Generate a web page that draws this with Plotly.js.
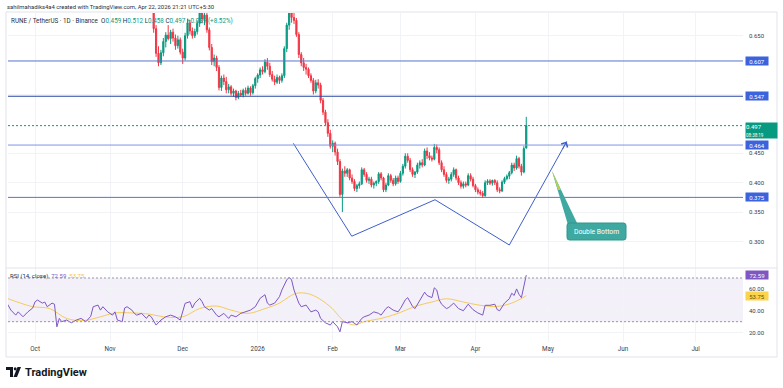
<!DOCTYPE html>
<html><head><meta charset="utf-8">
<script src="https://cdn.plot.ly/plotly-3.0.1.min.js"></script>
<style>html,body{margin:0;padding:0;background:#fff;}#chart{width:783px;height:388px;}</style>
</head><body><div id="chart"></div>
<script>
// ---------- DATA ----------
const dates = [
'2025-11-19','2025-11-20','2025-11-21','2025-11-22','2025-11-23','2025-11-24','2025-11-25','2025-11-26','2025-11-27','2025-11-28','2025-11-29','2025-11-30',
'2025-12-01','2025-12-02','2025-12-03','2025-12-04','2025-12-05','2025-12-06','2025-12-07','2025-12-08','2025-12-09','2025-12-10','2025-12-11','2025-12-12','2025-12-13','2025-12-14','2025-12-15','2025-12-16','2025-12-17','2025-12-18','2025-12-19','2025-12-20','2025-12-21','2025-12-22','2025-12-23','2025-12-24','2025-12-25','2025-12-26','2025-12-27','2025-12-28','2025-12-29','2025-12-30','2025-12-31',
'2026-01-01','2026-01-02','2026-01-03','2026-01-04','2026-01-05','2026-01-06','2026-01-07','2026-01-08','2026-01-09','2026-01-10','2026-01-11','2026-01-12','2026-01-13','2026-01-14','2026-01-15','2026-01-16','2026-01-17','2026-01-18','2026-01-19','2026-01-20','2026-01-21','2026-01-22','2026-01-23','2026-01-24','2026-01-25','2026-01-26','2026-01-27','2026-01-28','2026-01-29','2026-01-30','2026-01-31',
'2026-02-01','2026-02-02','2026-02-03','2026-02-04','2026-02-05','2026-02-06','2026-02-07','2026-02-08','2026-02-09','2026-02-10','2026-02-11','2026-02-12','2026-02-13','2026-02-14','2026-02-15','2026-02-16','2026-02-17','2026-02-18','2026-02-19','2026-02-20','2026-02-21','2026-02-22','2026-02-23','2026-02-24','2026-02-25','2026-02-26','2026-02-27','2026-02-28',
'2026-03-01','2026-03-02','2026-03-03','2026-03-04','2026-03-05','2026-03-06','2026-03-07','2026-03-08','2026-03-09','2026-03-10','2026-03-11','2026-03-12','2026-03-13','2026-03-14','2026-03-15','2026-03-16','2026-03-17','2026-03-18','2026-03-19','2026-03-20','2026-03-21','2026-03-22','2026-03-23','2026-03-24','2026-03-25','2026-03-26','2026-03-27','2026-03-28','2026-03-29','2026-03-30','2026-03-31',
'2026-04-01','2026-04-02','2026-04-03','2026-04-04','2026-04-05','2026-04-06','2026-04-07','2026-04-08','2026-04-09','2026-04-10','2026-04-11','2026-04-12','2026-04-13','2026-04-14','2026-04-15','2026-04-16','2026-04-17','2026-04-18','2026-04-19','2026-04-20','2026-04-21','2026-04-22'];

const openP = [
0.735,0.662,0.620,0.604,0.621,0.640,0.651,0.645,0.656,0.646,
0.633,0.643,0.622,0.612,0.650,0.672,0.658,0.650,0.657,0.671,
0.689,0.679,0.685,0.660,0.630,0.606,0.612,0.596,0.562,0.578,
0.572,0.558,0.563,0.552,0.556,0.545,0.552,0.549,0.557,0.552,
0.561,0.553,0.565,0.577,0.583,0.592,0.589,0.605,0.598,0.584,
0.576,0.571,0.579,0.574,0.582,0.628,0.668,0.691,0.681,0.676,
0.652,0.618,0.604,0.596,0.593,0.582,0.574,0.556,0.570,0.566,
0.540,0.520,0.502,0.484,0.462,0.467,0.452,0.436,0.380,0.420,
0.416,0.422,0.408,0.402,0.390,0.395,0.398,0.422,0.414,0.404,
0.406,0.396,0.399,0.402,0.415,0.408,0.388,0.396,0.412,0.404,
0.398,0.408,0.402,0.416,0.428,0.445,0.438,0.422,0.414,0.418,
0.430,0.434,0.430,0.454,0.446,0.442,0.440,0.460,0.456,0.434,
0.422,0.414,0.404,0.406,0.414,0.422,0.408,0.400,0.394,0.398,
0.396,0.412,0.406,0.395,0.388,0.384,0.382,0.378,0.400,0.403,
0.399,0.404,0.400,0.388,0.386,0.401,0.407,0.411,0.417,0.430,
0.425,0.441,0.428,0.418,0.459];
const highP = [
0.748,0.668,0.632,0.626,0.646,0.656,0.668,0.660,0.662,0.652,
0.650,0.647,0.628,0.655,0.679,0.676,0.664,0.662,0.676,0.698,
0.702,0.692,0.689,0.664,0.636,0.618,0.616,0.600,0.582,0.584,
0.580,0.568,0.566,0.560,0.558,0.556,0.558,0.560,0.562,0.565,
0.564,0.568,0.580,0.586,0.596,0.598,0.610,0.612,0.604,0.590,
0.582,0.584,0.582,0.586,0.632,0.672,0.702,0.704,0.692,0.680,
0.656,0.622,0.612,0.602,0.596,0.586,0.578,0.575,0.576,0.570,
0.544,0.524,0.508,0.490,0.472,0.470,0.458,0.440,0.424,0.428,
0.425,0.424,0.414,0.406,0.398,0.402,0.426,0.425,0.418,0.410,
0.410,0.402,0.404,0.418,0.418,0.410,0.400,0.416,0.415,0.408,
0.412,0.412,0.420,0.432,0.450,0.450,0.442,0.426,0.420,0.434,
0.438,0.440,0.458,0.460,0.452,0.446,0.466,0.465,0.460,0.438,
0.428,0.418,0.410,0.418,0.426,0.424,0.412,0.404,0.402,0.402,
0.416,0.416,0.410,0.398,0.392,0.388,0.386,0.404,0.406,0.406,
0.405,0.406,0.404,0.392,0.404,0.410,0.414,0.420,0.434,0.434,
0.446,0.444,0.432,0.462,0.512];
const lowP = [
0.655,0.614,0.598,0.600,0.615,0.630,0.642,0.636,0.640,0.626,
0.628,0.618,0.602,0.608,0.645,0.652,0.645,0.646,0.652,0.665,
0.671,0.668,0.655,0.625,0.600,0.598,0.590,0.557,0.556,0.566,
0.552,0.552,0.548,0.546,0.540,0.542,0.546,0.545,0.548,0.550,
0.548,0.550,0.560,0.570,0.578,0.584,0.586,0.592,0.580,0.572,
0.566,0.568,0.568,0.570,0.578,0.622,0.660,0.672,0.670,0.648,
0.612,0.598,0.590,0.584,0.578,0.570,0.550,0.552,0.560,0.535,
0.515,0.498,0.478,0.458,0.452,0.446,0.430,0.376,0.350,0.410,
0.410,0.404,0.398,0.386,0.384,0.390,0.396,0.410,0.400,0.398,
0.392,0.390,0.394,0.398,0.404,0.384,0.384,0.394,0.400,0.394,
0.395,0.398,0.400,0.412,0.424,0.434,0.418,0.410,0.408,0.415,
0.424,0.426,0.428,0.440,0.438,0.436,0.438,0.450,0.430,0.418,
0.410,0.400,0.398,0.402,0.410,0.404,0.396,0.390,0.390,0.392,
0.394,0.402,0.392,0.384,0.380,0.378,0.374,0.376,0.396,0.396,
0.395,0.396,0.384,0.382,0.384,0.398,0.404,0.406,0.414,0.420,
0.422,0.424,0.412,0.416,0.458];
const closeP = [
0.662,0.620,0.604,0.621,0.640,0.651,0.645,0.656,0.646,0.633,
0.643,0.622,0.612,0.650,0.672,0.658,0.650,0.657,0.671,0.689,
0.679,0.685,0.660,0.630,0.606,0.612,0.596,0.562,0.578,0.572,
0.558,0.563,0.552,0.556,0.545,0.552,0.549,0.557,0.552,0.561,
0.553,0.565,0.577,0.583,0.592,0.589,0.605,0.598,0.584,0.576,
0.571,0.579,0.574,0.582,0.628,0.668,0.691,0.681,0.676,0.652,
0.618,0.604,0.596,0.593,0.582,0.574,0.556,0.570,0.566,0.540,
0.520,0.502,0.484,0.462,0.467,0.452,0.436,0.380,0.420,0.416,
0.422,0.408,0.402,0.390,0.395,0.398,0.422,0.414,0.404,0.406,
0.396,0.399,0.402,0.415,0.408,0.388,0.396,0.412,0.404,0.398,
0.408,0.402,0.416,0.428,0.445,0.438,0.422,0.414,0.418,0.430,
0.434,0.430,0.454,0.446,0.442,0.440,0.460,0.456,0.434,0.422,
0.414,0.404,0.406,0.414,0.422,0.408,0.400,0.394,0.398,0.396,
0.412,0.406,0.395,0.388,0.384,0.382,0.378,0.400,0.403,0.399,
0.404,0.400,0.388,0.386,0.401,0.407,0.411,0.417,0.430,0.425,
0.441,0.428,0.418,0.458,0.497];

const rsiDates = ['2025-09-19','2025-09-21','2025-09-23','2025-09-24','2025-09-26','2025-09-28','2025-09-30','2025-10-01','2025-10-02','2025-10-04','2025-10-05','2025-10-06','2025-10-08','2025-10-09','2025-10-10','2025-10-11','2025-10-12','2025-10-14','2025-10-16','2025-10-18','2025-10-20','2025-10-22','2025-10-24','2025-10-25','2025-10-27','2025-10-28','2025-10-29','2025-10-31','2025-11-02','2025-11-03','2025-11-04','2025-11-06','2025-11-07','2025-11-08','2025-11-10','2025-11-11','2025-11-12','2025-11-14','2025-11-16','2025-11-17','2025-11-18','2025-11-20','2025-11-22','2025-11-24','2025-11-26','2025-11-28','2025-11-30','2025-12-02','2025-12-04','2025-12-05','2025-12-06','2025-12-08','2025-12-09','2025-12-10','2025-12-12','2025-12-13','2025-12-15','2025-12-16','2025-12-18','2025-12-20','2025-12-21','2025-12-23','2025-12-25','2025-12-27','2025-12-29','2025-12-31','2026-01-02','2026-01-04','2026-01-05','2026-01-06','2026-01-08','2026-01-10','2026-01-11','2026-01-13','2026-01-14','2026-01-15','2026-01-16','2026-01-18','2026-01-19','2026-01-21','2026-01-22','2026-01-23','2026-01-25','2026-01-26','2026-01-27','2026-01-29','2026-01-31','2026-02-01','2026-02-03','2026-02-04','2026-02-05','2026-02-07','2026-02-09','2026-02-11','2026-02-13','2026-02-14','2026-02-16','2026-02-18','2026-02-20','2026-02-21','2026-02-23','2026-02-24','2026-02-26','2026-02-28','2026-03-01','2026-03-03','2026-03-04','2026-03-06','2026-03-07','2026-03-09','2026-03-11','2026-03-12','2026-03-14','2026-03-15','2026-03-16','2026-03-17','2026-03-18','2026-03-20','2026-03-21','2026-03-23','2026-03-25','2026-03-27','2026-03-29','2026-03-31','2026-04-02','2026-04-04','2026-04-05','2026-04-07','2026-04-09','2026-04-10','2026-04-11','2026-04-13','2026-04-15','2026-04-16','2026-04-17','2026-04-18','2026-04-19','2026-04-20','2026-04-21','2026-04-22'];
const rsiValues = [48.3,40.6,36,39,34.5,39,42.5,48.3,49.8,47,48,43.7,47,46,25.3,33,30,31.5,29,31.5,33,30,35,43.7,45.2,40.6,43.7,39,36,39,31.5,30,42.5,43.7,40.6,37.6,36,37.6,33,36,34.5,26.9,31.5,34.5,36,34.5,31.5,46.8,48.3,42.5,47,51.4,48.3,43.7,40.6,42,36,34.5,37.6,33,36,34.5,37.6,39,40.6,43.7,51.4,54.7,47,45.2,47,52.9,59,68.2,70.6,68.2,59,47,43.7,45.2,42,39,40.6,39,33,29,26.9,30,25.3,20.7,30,29,30,27,33,34.5,36,39,37.6,36,42,43.7,40.6,39,42,50,52,44,42,50,57,54,52,61,59,50,46,42,43,47,42,40,46,41,38,36,45,45,46,41,40,47,51,56,54,60,55,52,64,72.59];

const rsiMaDates = ['2025-09-19','2025-09-25','2025-09-30','2025-10-07','2025-10-14','2025-10-21','2025-10-28','2025-11-03','2025-11-10','2025-11-17','2025-11-23','2025-12-01','2025-12-08','2025-12-15','2025-12-21','2025-12-28','2026-01-04','2026-01-10','2026-01-14','2026-01-17','2026-01-21','2026-01-25','2026-01-31','2026-02-06','2026-02-10','2026-02-14','2026-02-21','2026-02-28','2026-03-07','2026-03-14','2026-03-20','2026-03-27','2026-04-03','2026-04-10','2026-04-16','2026-04-22'];
const rsiMaValues = [51.7,47,43.7,42,33,31,34.5,38,38,37,34.5,34.5,42,44.3,40.6,37.6,42,47,52.9,56,56,52.9,43.7,30,27,30,33,37.6,44,48,51,48,45,44,47,53.75];

const levelPrices = [0.607, 0.547, 0.464, 0.375];
const levelLabels = ['0.607', '0.547', '0.464', '0.375'];
const lastPrice = 0.497;
const lastPriceLabel = '0.497';
const countdown = '08:38:19';
const rsiLast = 72.59, rsiMaLast = 53.75;

const patternDates = ['2026-01-15 17:00','2026-02-08 21:00','2026-03-15 07:00','2026-04-15 00:00','2026-05-08 17:00'];
const patternPrices = [0.467, 0.309, 0.371, 0.294, 0.470];

const monthTicks = ['2025-10-01','2025-11-01','2025-12-01','2026-01-01','2026-02-01','2026-03-01','2026-04-01','2026-05-01','2026-06-01','2026-07-01'];
const monthLabels = ['Oct','Nov','Dec','2026','Feb','Mar','Apr','May','Jun','Jul'];
const priceTicks = [0.30,0.35,0.40,0.45,0.55,0.65];
const priceTickLabels = ['0.300','0.350','0.400','0.450','0.550','0.650'];
const rsiTicks = [20,40,60];
const rsiTickLabels = ['20.00','40.00','60.00'];

// ---------- LAYOUT HELPERS ----------
const W = 783, H = 388, M = {l:8, r:40, t:13, b:46};
const PW = W - M.l - M.r, PH = H - M.t - M.b;
const px = x => (x - M.l) / PW;
const py = y => (H - M.b - y) / PH;
const FONT = 'Roboto, "Liberation Sans", Arial, sans-serif';
const GREEN = '#089981', RED = '#f23645', PURPLE = '#7e57c2', YELLOW = '#f5c342';
const splitY = py(268);

const traces = [
  {type:'candlestick', x:dates, open:openP, high:highP, low:lowP, close:closeP,
   xaxis:'x', yaxis:'y', whiskerwidth:0, hoverinfo:'skip',
   increasing:{line:{color:GREEN, width:1}, fillcolor:GREEN},
   decreasing:{line:{color:RED, width:1}, fillcolor:RED}},
  {type:'scatter', mode:'lines', x:patternDates, y:patternPrices, xaxis:'x', yaxis:'y',
   line:{color:'#3f5fc9', width:1}, hoverinfo:'skip', cliponaxis:false},
  {type:'scatter', mode:'lines', x:rsiMaDates, y:rsiMaValues, xaxis:'x', yaxis:'y2',
   line:{color:YELLOW, width:1, shape:'spline'}, opacity:0.85, hoverinfo:'skip'},
  {type:'scatter', mode:'lines', x:rsiDates, y:rsiValues, xaxis:'x', yaxis:'y2',
   line:{color:PURPLE, width:1}, hoverinfo:'skip'}
];

const levelColors = ['#5575cf','#2a4aa3','#7d95e8','#5575cf'];
const shapes = [
  {type:'rect', xref:'paper', yref:'paper', x0:px(6), x1:px(777), y0:py(357), y1:py(12), line:{color:'#e0e3eb', width:1}, layer:'below'},
  {type:'line', xref:'paper', yref:'paper', x0:px(6), x1:px(777), y0:splitY, y1:splitY, line:{color:'#e0e3eb', width:1}},
  {type:'rect', xref:'paper', yref:'y2', x0:0, x1:1, y0:30, y1:70, fillcolor:'rgba(126,87,194,0.09)', line:{width:0}, layer:'below'},
  {type:'line', xref:'paper', yref:'y2', x0:0, x1:1, y0:70, y1:70, line:{color:'#9598a1', width:1, dash:'2px,2px'}},
  {type:'line', xref:'paper', yref:'y2', x0:0, x1:1, y0:30, y1:30, line:{color:'#9598a1', width:1, dash:'2px,2px'}},
  {type:'line', xref:'paper', yref:'y', x0:0, x1:1, y0:lastPrice, y1:lastPrice, line:{color:GREEN, width:1, dash:'2px,2px'}}
];
levelPrices.forEach((p,i)=>shapes.push({type:'line', xref:'paper', yref:'y', x0:0, x1:1, y0:p, y1:p, line:{color:levelColors[i], width:1}}));

function rr(x0,y0,x1,y1,r){
  return `M${px(x0+r)},${py(y0)} L${px(x1-r)},${py(y0)} Q${px(x1)},${py(y0)} ${px(x1)},${py(y0+r)} L${px(x1)},${py(y1-r)} Q${px(x1)},${py(y1)} ${px(x1-r)},${py(y1)} L${px(x0+r)},${py(y1)} Q${px(x0)},${py(y1)} ${px(x0)},${py(y1-r)} L${px(x0)},${py(y0+r)} Q${px(x0)},${py(y0)} ${px(x0+r)},${py(y0)} Z`;
}
shapes.push({type:'path', xref:'paper', yref:'paper', path:`M${px(552)},${py(171)} L${px(568)},${py(225)} L${px(578)},${py(225)} Z`, fillcolor:'#3fa8a1', line:{width:0}});
shapes.push({type:'path', xref:'paper', yref:'paper', path:`M${px(552)},${py(171)} L${px(558)},${py(190)} L${px(561)},${py(190)} Z`, fillcolor:'#b9cf55', line:{width:0}});
shapes.push({type:'path', xref:'paper', yref:'paper', path:rr(567,223,626,240,2.5), fillcolor:'#3fa8a1', line:{color:'#2f9690', width:1}});
shapes.push({type:'path', xref:'paper', yref:'paper', path:`M${px(6)},${py(367)} L${px(13)},${py(367)} L${px(13)},${py(377)} L${px(10)},${py(377)} L${px(10)},${py(370)} L${px(6)},${py(370)} Z`, fillcolor:'#131722', line:{width:0}});
shapes.push({type:'circle', xref:'paper', yref:'paper', x0:px(13.8), x1:px(16.6), y0:py(370.4), y1:py(367.2), fillcolor:'#131722', line:{width:0}});
shapes.push({type:'path', xref:'paper', yref:'paper', path:`M${px(17.5)},${py(367)} L${px(21)},${py(367)} L${px(17)},${py(377)} L${px(13.5)},${py(377)} Z`, fillcolor:'#131722', line:{width:0}});

const annotations = [
  {xref:'paper', yref:'paper', x:px(5), y:py(7), xanchor:'left', yanchor:'middle', showarrow:false,
   text:'sahilmahadiks4a4 created with TradingView.com, Apr 22, 2026 21:21 UTC+5:30', font:{size:5.9, color:'#2a2e39'}},
  {xref:'paper', yref:'paper', x:px(9), y:py(21), xanchor:'left', yanchor:'middle', showarrow:false,
   text:`RUNE / TetherUS · 1D · Binance  O<span style="color:${GREEN}">0.459</span> H<span style="color:${GREEN}">0.512</span> L<span style="color:${GREEN}">0.458</span> C<span style="color:${GREEN}">0.497</span> <span style="color:${GREEN}">+0.039 (+8.52%)</span>`,
   font:{size:6.3, color:'#2a2e39'}},
  {xref:'paper', yref:'paper', x:px(8), y:py(276), xanchor:'left', yanchor:'middle', showarrow:false,
   text:`RSI (14, close)  <span style="color:${PURPLE}">${rsiLast.toFixed(2)}</span>  <span style="color:${YELLOW}">${rsiMaLast.toFixed(2)}</span>`,
   font:{size:6, color:'#2a2e39'}},
  {xref:'paper', yref:'paper', x:px(23), y:py(372), xanchor:'left', yanchor:'middle', showarrow:false,
   text:'<b>TradingView</b>', font:{size:11, color:'#131722'}},
  {xref:'paper', yref:'paper', x:px(596.5), y:py(231.5), xanchor:'center', yanchor:'middle', showarrow:false,
   text:'Double Bottom', font:{size:6.8, color:'#ffffff'}},
  {x:patternDates[patternDates.length-1], y:patternPrices[patternPrices.length-1], xref:'x', yref:'y',
   showarrow:true, ax:-5, ay:9, arrowhead:4, arrowsize:1.4, arrowwidth:1, arrowcolor:'#3f5fc9', text:''}
];
levelPrices.forEach((p,i)=>annotations.push({xref:'paper', yref:'y', x:px(745), y:p, xanchor:'left', yanchor:'middle',
  showarrow:false, text:levelLabels[i], bgcolor:'#3b63dd', width:22, height:8, borderpad:0, align:'center',
  font:{size:6, color:'#ffffff'}}));
annotations.push({xref:'paper', yref:'y', x:px(745), y:lastPrice, xanchor:'left', yanchor:'top', yshift:4,
  showarrow:false, text:`${lastPriceLabel}<br><span style="font-size:4.5px">${countdown}</span>`, bgcolor:GREEN, width:31, height:15,
  borderpad:0, align:'left', font:{size:6, color:'#ffffff'}});
annotations.push({xref:'paper', yref:'y2', x:px(745), y:rsiLast, xanchor:'left', yanchor:'middle', showarrow:false,
  text:rsiLast.toFixed(2), bgcolor:PURPLE, width:22, height:8, borderpad:0, font:{size:6, color:'#ffffff'}});
annotations.push({xref:'paper', yref:'y2', x:px(745), y:rsiMaLast, xanchor:'left', yanchor:'middle', showarrow:false,
  text:rsiMaLast.toFixed(2), bgcolor:'#fcd34d', width:22, height:8, borderpad:0, font:{size:6, color:'#6b5200'}});

const layout = {
  width:W, height:H, margin:M, paper_bgcolor:'#ffffff', plot_bgcolor:'#ffffff', showlegend:false,
  font:{family:FONT, size:6, color:'#131722'}, hovermode:false,
  xaxis:{type:'date', range:['2025-09-19 19:00','2026-07-20 14:00'], anchor:'y2', rangeslider:{visible:false},
    tickmode:'array', tickvals:monthTicks, ticktext:monthLabels, showgrid:true, gridcolor:'#f1f3f7', gridwidth:1,
    ticks:'', showline:false, zeroline:false, tickfont:{size:6.3, color:'#3a3d47'}, ticklabelstandoff:2},
  yaxis:{domain:[splitY,1], range:[0.2549,0.6886], side:'right', anchor:'x', tickmode:'array', tickvals:priceTicks,
    ticktext:priceTickLabels, showgrid:true, gridcolor:'#f1f3f7', ticks:'', ticklabelstandoff:5,
    tickfont:{size:6, color:'#3a3d47'}, zeroline:false, showline:false},
  yaxis2:{domain:[0,splitY], range:[11.4,79.15], side:'right', anchor:'x', tickmode:'array', tickvals:rsiTicks,
    ticktext:rsiTickLabels, showgrid:true, gridcolor:'#f1f3f7', ticks:'', ticklabelstandoff:5,
    tickfont:{size:6, color:'#3a3d47'}, zeroline:false, showline:false},
  shapes:shapes, annotations:annotations
};

Plotly.newPlot('chart', traces, layout, {displayModeBar:false, staticPlot:true});
</script>
</body></html>
